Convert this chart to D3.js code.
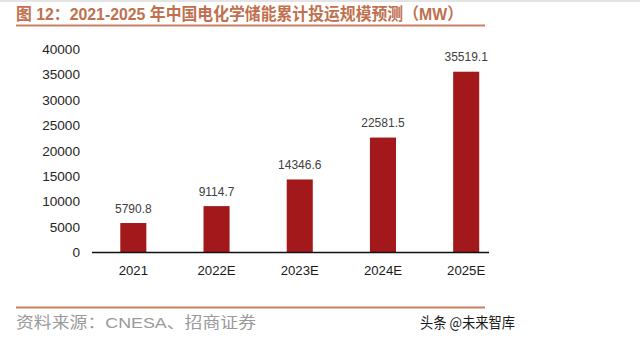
<!DOCTYPE html>
<html><head><meta charset="utf-8">
<script src="https://cdn.jsdelivr.net/npm/d3@7"></script>
<style>
html,body{margin:0;padding:0;background:#fff;}
svg{display:block;}
</style></head>
<body>
<svg id="c" width="640" height="339"></svg>
<script>
const categories = ["2021","2022E","2023E","2024E","2025E"];
const values = [5790.8, 9114.7, 14346.6, 22581.5, 35519.1];
const valueLabels = ["5790.8","9114.7","14346.6","22581.5","35519.1"];
const yTicks = [0,5000,10000,15000,20000,25000,30000,35000,40000];
const titleText = "图 12：2021-2025 年中国电化学储能累计投运规模预测（MW）";
const sourceText = "资料来源：CNESA、招商证券";
const watermark = "头条 @未来智库";

const svg = d3.select("#c");
const latin = "Arial, 'Liberation Sans', 'Noto Sans CJK SC', sans-serif";

svg.append("rect").attr("x",0).attr("y",0).attr("width",640).attr("height",2).attr("fill","#e4e4e4");

// title
svg.append("text").attr("x",16).attr("y",19.5)
  .attr("font-family", latin).attr("font-weight","bold").attr("font-size",16.5)
  .attr("textLength",447).attr("lengthAdjust","spacingAndGlyphs")
  .attr("fill","#c0704e").text(titleText);
svg.append("line").attr("x1",16).attr("x2",485).attr("y1",25.5).attr("y2",25.5)
  .attr("stroke","#c97e62").attr("stroke-width",2);

const x = d3.scaleBand().domain(categories).range([92, 507.5]).paddingInner(0.687).paddingOuter(0.34);
const y = d3.scaleLinear().domain([0,40000]).range([252.5, 48.9]);

const yAxis = d3.axisLeft(y).tickValues(yTicks).tickSize(0).tickPadding(0).tickFormat(d3.format("d"));
const gy = svg.append("g").attr("transform","translate(80,0)").call(yAxis);
gy.select(".domain").remove();
gy.selectAll("text").attr("font-family",latin).attr("font-size",13.6).attr("fill","#262626");

svg.selectAll("rect.bar").data(values).join("rect").attr("class","bar")
  .attr("x",(d,i)=>x(categories[i])).attr("width",x.bandwidth())
  .attr("y",d=>y(d)).attr("height",d=>y(0)-y(d)).attr("fill","#a3181a");

svg.selectAll("text.val").data(values).join("text").attr("class","val")
  .attr("x",(d,i)=>x(categories[i])+x.bandwidth()/2).attr("y",d=>y(d)-10.5)
  .attr("text-anchor","middle").attr("font-family",latin).attr("font-size",12)
  .attr("fill","#404040").text((d,i)=>valueLabels[i]);

const xAxis = d3.axisBottom(x).tickSize(0).tickPadding(0);
const gx = svg.append("g").attr("transform","translate(0,252.5)").call(xAxis);
gx.select(".domain").remove();
gx.selectAll("text").attr("font-family",latin).attr("font-size",13.2).attr("fill","#1a1a1a").attr("dy",null).attr("y",22.5);
svg.append("line").attr("x1",92).attr("x2",489).attr("y1",252.5).attr("y2",252.5).attr("stroke","#111").attr("stroke-width",1.3);

svg.append("line").attr("x1",16).attr("x2",485).attr("y1",307.5).attr("y2",307.5)
  .attr("stroke","#c97e62").attr("stroke-width",2);
svg.append("text").attr("x",16).attr("y",327.5).attr("font-family",latin).attr("font-size",15.5)
  .attr("textLength",240).attr("lengthAdjust","spacingAndGlyphs")
  .attr("fill","#9a9a9a").text(sourceText);
svg.append("text").attr("x",420).attr("y",327.5).attr("font-family","'Noto Sans CJK SC', sans-serif").attr("font-size",14.5)
  .attr("textLength",95).attr("lengthAdjust","spacingAndGlyphs")
  .attr("fill","#1a1a1a").text(watermark);
</script>
</body></html>
